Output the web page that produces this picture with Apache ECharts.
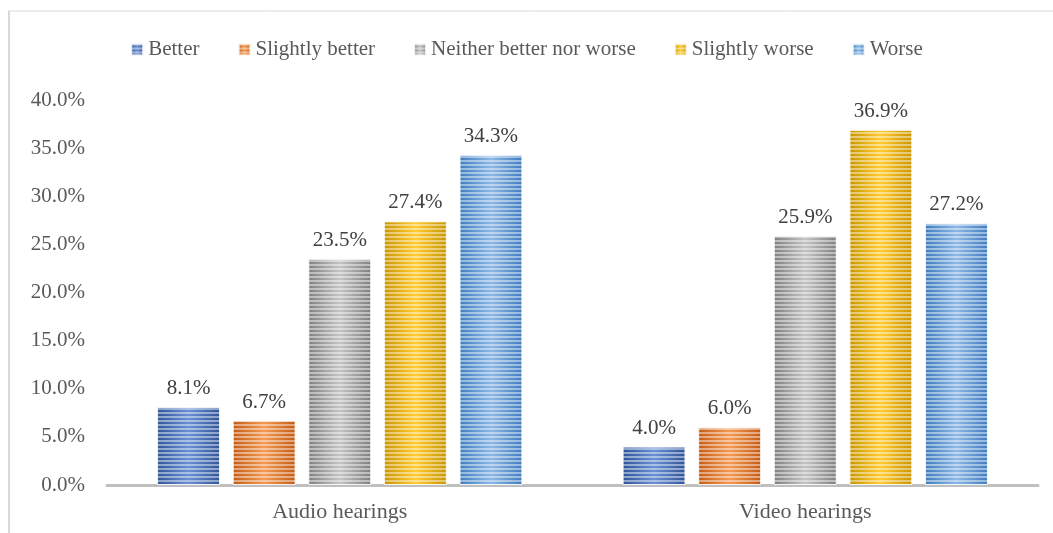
<!DOCTYPE html>
<html>
<head>
<meta charset="utf-8">
<script src="https://cdn.jsdelivr.net/npm/echarts@6/dist/echarts.min.js"></script>
<style>
  html, body { margin: 0; padding: 0; background: #fff; }
  #chart { width: 1053px; height: 533px; }
</style>
</head>
<body>
<div id="chart"></div>
<script>
const categories = ['Audio hearings', 'Video hearings']
const seriesNames = ['Better', 'Slightly better', 'Neither better nor worse', 'Slightly worse', 'Worse']
const better = [8.1, 4.0]
const slightlyBetter = [6.7, 6.0]
const neither = [23.5, 25.9]
const slightlyWorse = [27.4, 36.9]
const worse = [34.3, 27.2]
const yTicks = [0, 5, 10, 15, 20, 25, 30, 35, 40]

const values = [better, slightlyBetter, neither, slightlyWorse, worse]
// edge colour, middle colour
const palette = [
  ['#2f5597', '#6a8fd6'],
  ['#c55a11', '#f39a55'],
  ['#7f7f7f', '#c4c4c4'],
  ['#c89400', '#ffcc33'],
  ['#3e7cbf', '#8cb8e6']
]
const font = '"Liberation Serif", "DejaVu Serif", serif'

const chart = echarts.init(document.getElementById('chart'))

const series = seriesNames.map((name, i) => ({
  name: name,
  type: 'bar',
  data: values[i],
  barWidth: 63,
  barGap: '20%',
  itemStyle: {
    color: new echarts.graphic.LinearGradient(0, 0, 1, 0, [
      { offset: 0, color: palette[i][0] },
      { offset: 0.5, color: palette[i][1] },
      { offset: 1, color: palette[i][0] }
    ]),
    borderColor: 'rgba(255,255,255,0.6)',
    borderWidth: 1,
    decal: {
      symbol: 'rect',
      symbolSize: 1,
      color: 'rgba(255,255,255,0.45)',
      dashArrayX: [1, 0],
      dashArrayY: [2, 2],
      rotation: 0
    }
  },
  label: {
    show: true,
    position: 'top',
    distance: 8,
    fontFamily: font,
    fontSize: 21,
    color: '#404040',
    formatter: p => p.value.toFixed(1) + '%'
  }
}))

chart.setOption({
  animation: false,
  legend: {
    top: 34,
    left: 'center',
    itemWidth: 12,
    itemHeight: 12,
    itemGap: 38,
    icon: 'rect',
    textStyle: { fontFamily: font, fontSize: 21, color: '#595959' },
    data: seriesNames
  },
  grid: { left: 107, right: 15, top: 100, bottom: 48 },
  xAxis: {
    type: 'category',
    data: categories,
    axisTick: { show: false },
    axisLine: { lineStyle: { color: '#bfbfbf', width: 3 } },
    axisLabel: { fontFamily: font, fontSize: 22, color: '#595959', margin: 16 }
  },
  yAxis: {
    type: 'value',
    min: yTicks[0],
    max: yTicks[yTicks.length - 1],
    interval: 5,
    splitLine: { show: false },
    axisLine: { show: false },
    axisTick: { show: false },
    axisLabel: {
      fontFamily: font,
      fontSize: 21,
      color: '#595959',
      margin: 22,
      formatter: v => v.toFixed(1) + '%'
    }
  },
  graphic: [
    { type: 'line', shape: { x1: 8, y1: 11, x2: 1053, y2: 11 }, style: { stroke: '#d9d9d9', lineWidth: 1 } },
    { type: 'line', shape: { x1: 9, y1: 11, x2: 9, y2: 533 }, style: { stroke: '#d9d9d9', lineWidth: 2 } }
  ],
  series: series
})
</script>
</body>
</html>
